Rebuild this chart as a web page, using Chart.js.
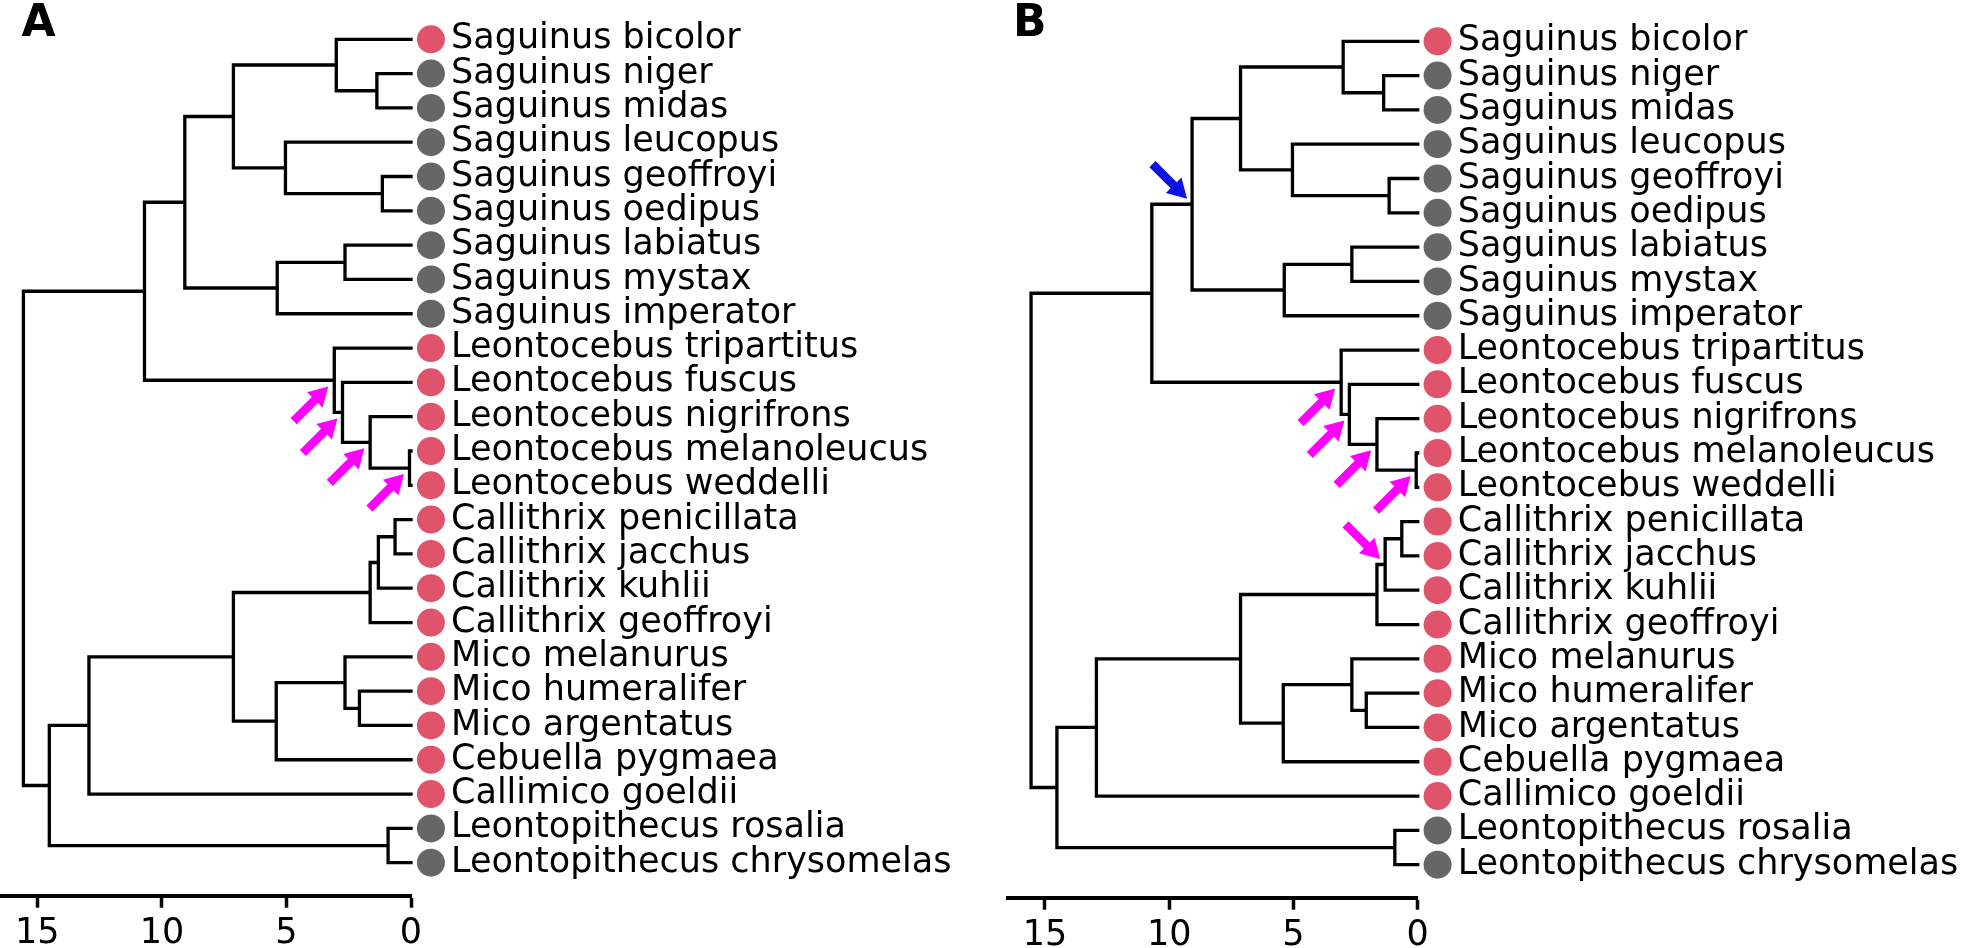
<!DOCTYPE html>
<html>
<head>
<meta charset="utf-8">
<script src="https://cdn.jsdelivr.net/npm/chart.js@4.4.1/dist/chart.umd.min.js"></script>
<style>
  body { margin: 0; background: #fff; }
  .panel { position: absolute; }
</style>
</head>
<body>
<div class="panel" style="left:0px;top:0px"><canvas id="treeA" width="984" height="948"></canvas></div>
<div class="panel" style="left:984px;top:2px"><canvas id="treeB" width="984" height="946"></canvas></div>
<script>
let species = [
  "Saguinus bicolor", "Saguinus niger", "Saguinus midas", "Saguinus leucopus",
  "Saguinus geoffroyi", "Saguinus oedipus", "Saguinus labiatus", "Saguinus mystax",
  "Saguinus imperator", "Leontocebus tripartitus", "Leontocebus fuscus",
  "Leontocebus nigrifrons", "Leontocebus melanoleucus", "Leontocebus weddelli",
  "Callithrix penicillata", "Callithrix jacchus", "Callithrix kuhlii",
  "Callithrix geoffroyi", "Mico melanurus", "Mico humeralifer", "Mico argentatus",
  "Cebuella pygmaea", "Callimico goeldii", "Leontopithecus rosalia",
  "Leontopithecus chrysomelas",
];
// 1 = red state, 0 = grey state
let tipState = [1, 0, 0, 0, 0, 0, 0, 0, 0, 1, 1, 1, 1, 1, 1, 1, 1, 1, 1, 1, 1, 1, 1, 0, 0];

// internal nodes: children are tip indexes (numbers) or node ids (strings)
let nodeIds = ["nigMid", "bic", "geoOed", "leu", "upper", "labMys", "lab", "sag",
  "melWed", "nig", "fus", "leo", "sagLeo", "penJac", "kuh", "cal", "humArg", "mico",
  "micoCeb", "calMico", "goe", "lpt", "goeLpt", "root"];
let nodeKids = [[1, 2], [0, "nigMid"], [4, 5], [3, "geoOed"], ["bic", "leu"], [6, 7],
  ["labMys", 8], ["upper", "lab"], [12, 13], [11, "melWed"], [10, "nig"], [9, "fus"],
  ["sag", "leo"], [14, 15], ["penJac", 16], ["kuh", 17], [19, 20], [18, "humArg"],
  ["mico", 21], ["cal", "micoCeb"], ["calMico", 22], [23, 24], ["goe", "lpt"],
  ["sagLeo", "goeLpt"]];
let nodeAges = [1.37, 3.0, 1.15, 5.04, 7.13, 2.65, 5.37, 9.08, 0.06, 1.64, 2.75, 3.08,
  10.7, 0.64, 1.31, 1.64, 2.07, 2.65, 5.41, 7.13, 12.93, 0.92, 14.52, 15.56];

let xTicks = [0, 5, 10, 15];

// arrow tips [age, row]
let magentaUp = [[3.32, 10.12], [2.95, 11.05], [1.87, 11.92], [0.28, 12.67]];
let magentaDownB = [[1.51, 15.09]];
let blueDownB = [[9.28, 4.59]];

let RED = "#df536b";
let GREY = "#666666";
let MAGENTA = "#ff00ff";
let BLUE = "#0b12e2";
let DOT_X = -0.8;

Chart.defaults.font.family = "'DejaVu Sans'";

function rowOf(k) {
  if (typeof k === "number") return k;
  let kids = nodeKids[nodeIds.indexOf(k)];
  return (rowOf(kids[0]) + rowOf(kids[kids.length - 1])) / 2;
}
function ageOf(k) {
  return typeof k === "number" ? 0 : nodeAges[nodeIds.indexOf(k)];
}
function treePoints() {
  let pts = [];
  nodeIds.forEach((id, i) => {
    let age = nodeAges[i];
    let first = nodeKids[i][0];
    let last = nodeKids[i][nodeKids[i].length - 1];
    pts.push({ x: ageOf(first), y: rowOf(first) });
    pts.push({ x: age, y: rowOf(first) });
    pts.push({ x: age, y: rowOf(last) });
    pts.push({ x: ageOf(last), y: rowOf(last) });
    pts.push({ x: age, y: null });
  });
  return pts;
}

let fatArrows = {
  id: "fatArrows",
  afterDatasetsDraw(chart, args, opts) {
    let ctx = chart.ctx;
    let xs = chart.scales.x;
    let ys = chart.scales.y;
    (opts.items || []).forEach((a) => {
      let tx = xs.getPixelForValue(a.x);
      let ty = ys.getPixelForValue(a.y);
      let ux = Math.SQRT1_2;
      let uy = a.down ? Math.SQRT1_2 : -Math.SQRT1_2;
      let nx = -uy, ny = ux;
      let len = 49, hl = 19, hw = 11, sw = 4.3;
      let bx = tx - ux * hl, by = ty - uy * hl;
      let sx = tx - ux * len, sy = ty - uy * len;
      ctx.save();
      ctx.fillStyle = a.color;
      ctx.beginPath();
      ctx.moveTo(tx, ty);
      ctx.lineTo(bx + nx * hw, by + ny * hw);
      ctx.lineTo(bx + nx * sw, by + ny * sw);
      ctx.lineTo(sx + nx * sw, sy + ny * sw);
      ctx.lineTo(sx - nx * sw, sy - ny * sw);
      ctx.lineTo(bx - nx * sw, by - ny * sw);
      ctx.lineTo(bx - nx * hw, by - ny * hw);
      ctx.closePath();
      ctx.fill();
      ctx.restore();
    });
  },
};

let panelLetter = {
  id: "panelLetter",
  afterDraw(chart, args, opts) {
    let ctx = chart.ctx;
    ctx.save();
    ctx.font = "bold 44px 'DejaVu Sans'";
    ctx.fillStyle = "#000";
    ctx.textBaseline = "alphabetic";
    ctx.textAlign = "left";
    ctx.fillText(opts.text, opts.x, opts.y);
    ctx.restore();
  },
};

function noScalePadding(axis) {
  axis.paddingTop = 0;
  axis.paddingBottom = 0;
  axis.paddingLeft = 0;
  axis.paddingRight = 0;
}

function makeTree(canvasId, padLeft, yAxisWidth, xAxisHeight, letter, arrows) {
  return new Chart(document.getElementById(canvasId), {
    type: "scatter",
    data: {
      datasets: [
        {
          label: "tree",
          data: treePoints(),
          showLine: true,
          borderColor: "#000",
          borderWidth: 3.3,
          borderCapStyle: "square",
          borderJoinStyle: "miter",
          pointRadius: 0,
          pointHoverRadius: 0,
          spanGaps: false,
          tension: 0,
          clip: false,
        },
        {
          label: "tips",
          indexAxis: "y",
          data: species.map((s, i) => ({ x: DOT_X, y: i })),
          pointRadius: 14,
          // hover never happens (events off); a big hover radius keeps the
          // dots, which sit just outside the plot area, from being culled
          pointHoverRadius: 40,
          pointBorderWidth: 0,
          pointBackgroundColor: tipState.map((s) => (s ? RED : GREY)),
          clip: false,
        },
      ],
    },
    options: {
      responsive: false,
      animation: false,
      events: [],
      layout: { autoPadding: false, padding: { left: padLeft, right: 0, top: 0, bottom: 0 } },
      plugins: {
        legend: { display: false },
        tooltip: { enabled: false },
        fatArrows: { items: arrows },
        panelLetter: letter,
      },
      scales: {
        x: {
          type: "linear",
          min: 0,
          max: 16.5,
          reverse: true,
          afterBuildTicks: (axis) => {
            axis.ticks = xTicks.map((v) => ({ value: v }));
          },
          afterFit: (axis) => {
            axis.height = xAxisHeight;
            noScalePadding(axis);
          },
          border: { display: true, color: "#000", width: 4 },
          grid: {
            display: true,
            drawOnChartArea: false,
            drawTicks: true,
            tickLength: 12,
            tickWidth: 3.5,
            tickColor: "#000",
            color: "#000",
          },
          ticks: {
            color: "#000",
            font: { size: 35 },
            padding: 5,
            maxRotation: 0,
          },
        },
        y: {
          type: "linear",
          position: "right",
          min: -1.145,
          max: 24.962,
          reverse: true,
          afterBuildTicks: (axis) => {
            axis.ticks = species.map((s, i) => ({ value: i }));
          },
          afterFit: (axis) => {
            axis.width = yAxisWidth;
            noScalePadding(axis);
          },
          border: { display: false },
          grid: { display: false, drawTicks: false },
          ticks: {
            autoSkip: false,
            color: "#000",
            font: { size: 35 },
            padding: 40,
            callback: (v) => species[v],
          },
        },
      },
    },
    plugins: [fatArrows, panelLetter],
  });
}

let arrowsA = magentaUp.map((p) => ({ x: p[0], y: p[1], down: false, color: MAGENTA }));
let arrowsB = arrowsA
  .concat(magentaDownB.map((p) => ({ x: p[0], y: p[1], down: true, color: MAGENTA })))
  .concat(blueDownB.map((p) => ({ x: p[0], y: p[1], down: true, color: BLUE })));

makeTree("treeA", 0, 573, 52.3, { text: "A", x: 21.5, y: 36 }, arrowsA);
makeTree("treeB", 23.7, 550.3, 50.3, { text: "B", x: 29, y: 34 }, arrowsB);
</script>
</body>
</html>
